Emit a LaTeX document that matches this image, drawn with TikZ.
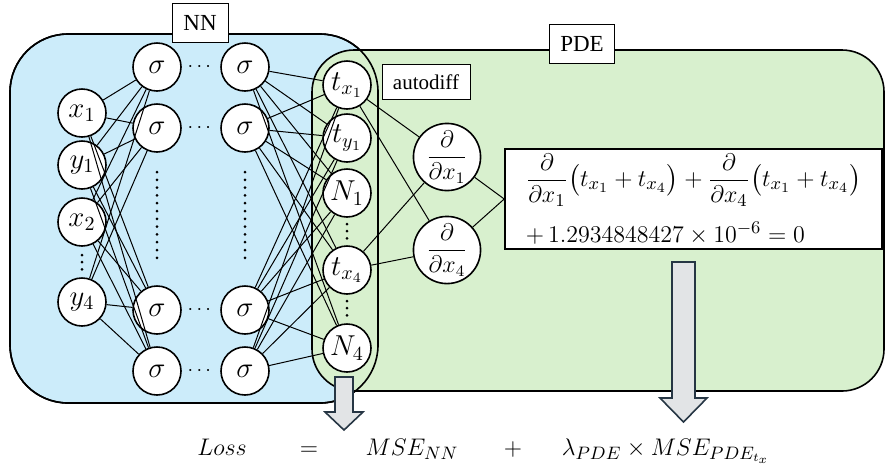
\documentclass[tikz,border=0pt]{standalone}
\usepackage{amsmath}
\usepackage{amssymb}
\usepackage{fontspec}
\setmainfont{Liberation Serif}
\usepackage{tikz}

\definecolor{nnblue}{RGB}{204,236,250}
\definecolor{pdegreen}{RGB}{216,240,206}
\definecolor{arrowgray}{RGB}{226,228,230}
\definecolor{arrowedge}{RGB}{38,54,68}

\tikzset{
  neuron/.style={circle, draw, thick, fill=white, minimum size=24pt, inner sep=0pt,
    font=\fontsize{14}{16}\selectfont},
  deriv/.style={neuron, minimum size=31pt, font=\fontsize{12}{14}\selectfont},
  tagbox/.style={draw, fill=white, inner sep=2pt, font=\fontsize{11.5}{13}\selectfont},
  link/.style={line width=0.5pt},
  blockarrow/.style={draw=arrowedge, fill=arrowgray, thick, line join=miter},
  lossterm/.style={anchor=base, font=\fontsize{13}{15}\selectfont},
  dotcol/.style={line width=1.5pt, line cap=round, dash pattern=on 0pt off 3.6pt},
}

\begin{document}
\begin{tikzpicture}[x=0.5pt, y=-0.5pt]
  \useasboundingbox (0,0) rectangle (886,473);

  % the two regions; the blue outline is drawn again on top of the green one
  \draw[thick, fill=nnblue, rounded corners=29pt] (10,34) rectangle (378,403);
  \draw[thick, fill=pdegreen, rounded corners=21pt] (312,50) rectangle (884,391);
  \draw[thick, rounded corners=29pt] (10,34) rectangle (378,403);

  \node[tagbox, minimum width=28pt, minimum height=19.5pt] (nnlabel) at (200,23) {NN};
  \node[tagbox, minimum width=32.5pt, minimum height=19.5pt] (pdelabel) at (582,44) {PDE};
  \node[tagbox, minimum width=44pt, minimum height=17.5pt, font=\fontsize{10.5}{12}\selectfont]
    (adlabel) at (426,82) {autodiff};

  % input layer
  \foreach \n/\y/\lab in {1/113/x_1, 2/165/y_1, 3/222/x_2, 4/302/y_4}
    \node[neuron] (in\n) at (82,\y) {$\lab$};
  \draw[dotcol] (82,255) -- (82,270);

  % hidden layers
  \foreach \n/\y in {1/67, 2/128, 3/310, 4/371} {
    \node[neuron] (ha\n) at (157,\y) {$\sigma$};
    \node[neuron] (hb\n) at (245,\y) {$\sigma$};
    \node (hdots\n) at (201,\y) {$\cdots$};
  }
  \foreach \x in {157,245}
    \draw[dotcol, dash pattern=on 0pt off 3.9pt] (\x,172) -- (\x,265);

  % output layer
  \foreach \n/\y/\lab in {1/85/t_{x_1}, 2/138/t_{y_1}, 3/193/N_1, 4/270/t_{x_4}, 5/348/N_4}
    \node[neuron] (out\n) at (347,\y) {$\lab$};
  \draw[dotcol] (347,224) -- (347,239);
  \draw[dotcol] (347,301) -- (347,316);

  % derivatives and residual
  \node[deriv] (dx1) at (447,157) {$\dfrac{\partial}{\partial x_1}$};
  \node[deriv] (dx4) at (447,250) {$\dfrac{\partial}{\partial x_4}$};
  \node[draw, thick, fill=white, align=left, minimum width=188.5pt, minimum height=50pt,
    inner sep=2pt, font=\fontsize{13.2}{14}\selectfont] (eq) at (693.5,199)
    {$\dfrac{\partial}{\partial x_1}\bigl(t_{x_1}+t_{x_4}\bigr)+\dfrac{\partial}{\partial x_4}\bigl(t_{x_1}+t_{x_4}\bigr)$\\[7pt]
     $+\,1.2934848427\times10^{-6}=0$};

  \foreach \i in {1,...,4}
    \foreach \j in {1,...,4}
      \draw[link] (in\i) -- (ha\j);
  \foreach \i in {1,...,4}
    \foreach \j in {1,...,5}
      \draw[link] (hb\i) -- (out\j);
  \foreach \i in {1,4}
    \foreach \j in {1,4}
      \draw[link] (out\i) -- (dx\j);
  \draw[link] (dx1) -- (eq.west);
  \draw[link] (dx4) -- (eq.west);

  % block arrows down to the loss
  \draw[blockarrow] (335,377) -- (353,377) -- (353,412) -- (363,412) -- (344,430)
    -- (325,412) -- (335,412) -- cycle;
  \draw[blockarrow] (672,262) -- (695,262) -- (695,398) -- (707,398) -- (683.5,422)
    -- (660,398) -- (672,398) -- cycle;

  \node[lossterm] (loss) at (222,455) {$Loss$};
  \node[lossterm] (eqsign) at (309,455) {$=$};
  \node[lossterm] (msenn) at (412,455) {$MSE_{NN}$};
  \node[lossterm] (plus) at (513,455) {$+$};
  \node[lossterm] (msepde) at (666,455) {$\lambda_{PDE}\times MSE_{PDE_{t_x}}$};
\end{tikzpicture}
\end{document}
